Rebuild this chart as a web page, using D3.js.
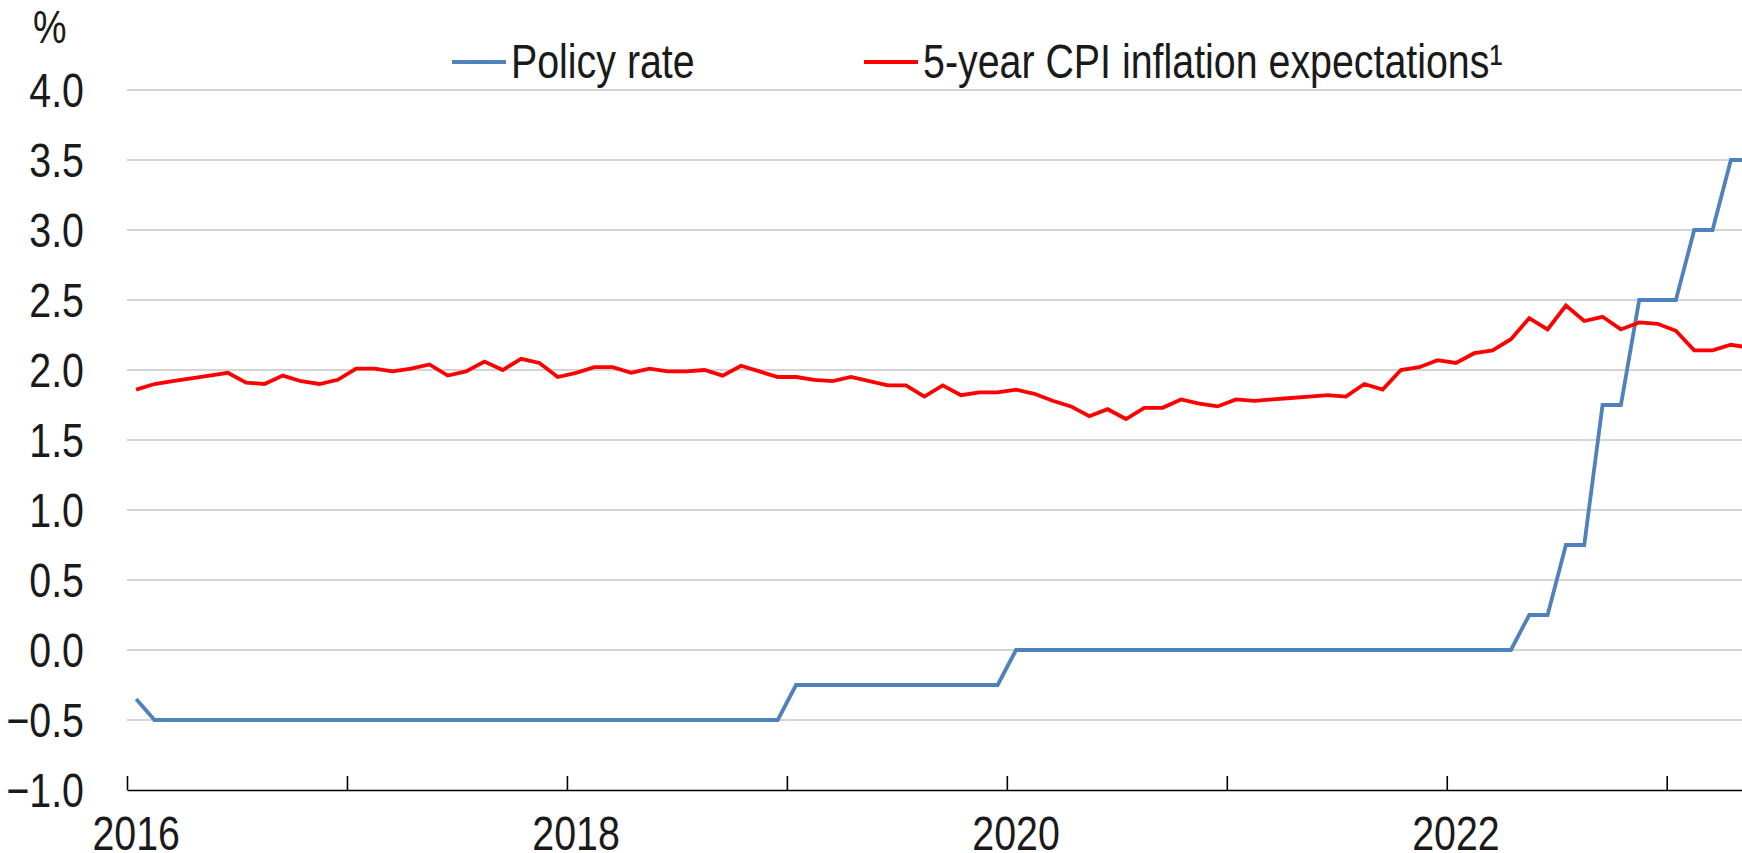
<!DOCTYPE html>
<html>
<head>
<meta charset="utf-8">
<script src="https://cdn.jsdelivr.net/npm/d3@7"></script>
<style>
    body { margin: 0; background: #fff; }
    svg text { font-family: "Liberation Sans Narrow", "Arial Narrow", "Liberation Sans", Arial, sans-serif; fill: #1a1a1a; }
</style>
</head>
<body>
<div id="graph"></div>
<script>
// Monthly data, Jan 2016 to May 2023
const startYear = 2016;

const policyRate = [
    -0.35, -0.5, -0.5, -0.5, -0.5, -0.5, -0.5, -0.5, -0.5, -0.5, -0.5, -0.5,
    -0.5, -0.5, -0.5, -0.5, -0.5, -0.5, -0.5, -0.5, -0.5, -0.5, -0.5, -0.5,
    -0.5, -0.5, -0.5, -0.5, -0.5, -0.5, -0.5, -0.5, -0.5, -0.5, -0.5, -0.5,
    -0.25, -0.25, -0.25, -0.25, -0.25, -0.25, -0.25, -0.25, -0.25, -0.25, -0.25, -0.25,
    0, 0, 0, 0, 0, 0, 0, 0, 0, 0, 0, 0,
    0, 0, 0, 0, 0, 0, 0, 0, 0, 0, 0, 0,
    0, 0, 0, 0, 0.25, 0.25, 0.75, 0.75, 1.75, 1.75, 2.5, 2.5,
    2.5, 3.0, 3.0, 3.5, 3.5
];

const inflationExpectations = [
    1.86, 1.90, 1.92, 1.94, 1.96, 1.98, 1.91, 1.90, 1.96, 1.92, 1.90, 1.93,
    2.01, 2.01, 1.99, 2.01, 2.04, 1.96, 1.99, 2.06, 2.00, 2.08, 2.05, 1.95,
    1.98, 2.02, 2.02, 1.98, 2.01, 1.99, 1.99, 2.00, 1.96, 2.03, 1.99, 1.95,
    1.95, 1.93, 1.92, 1.95, 1.92, 1.89, 1.89, 1.81, 1.89, 1.82, 1.84, 1.84,
    1.86, 1.83, 1.78, 1.74, 1.67, 1.72, 1.65, 1.73, 1.73, 1.79, 1.76, 1.74,
    1.79, 1.78, 1.79, 1.80, 1.81, 1.82, 1.81, 1.90, 1.86, 2.00, 2.02, 2.07,
    2.05, 2.12, 2.14, 2.22, 2.37, 2.29, 2.46, 2.35, 2.38, 2.29, 2.34, 2.33,
    2.28, 2.14, 2.14, 2.18, 2.16
];

const yTicks = [-1.0, -0.5, 0.0, 0.5, 1.0, 1.5, 2.0, 2.5, 3.0, 3.5, 4.0];
const yearLabels = [2016, 2018, 2020, 2022];
const seriesNames = ["Policy rate", "5-year CPI inflation expectations\u00b9"];
const seriesColors = ["#4f81bd", "#ff0000"];

const W = 1742, H = 853;
const margin = {top: 90, left: 127, bottom: 63};
const monthW = 18.33;
const nMonths = 90; // axis runs to mid 2023, cut by the page edge
const squeeze = 0.82; // no narrow font installed, so squeeze the sans

var svg = d3.select("#graph")
    .append("svg")
    .attr("width", W)
    .attr("height", H)
    .style("display", "block");

var x = d3.scaleLinear()
    .domain([0, nMonths])
    .range([margin.left, margin.left + nMonths * monthW]);

var y = d3.scaleLinear()
    .domain([-1, 4])
    .range([H - margin.bottom, margin.top]);

function place(px, py) {
    return "translate(" + px + "," + py + ") scale(" + squeeze + ",1)";
}

// gridlines
svg.append("g")
    .selectAll("line")
    .data(yTicks.filter(d => d > -1))
    .join("line")
    .attr("x1", x(0))
    .attr("x2", W)
    .attr("y1", d => y(d))
    .attr("y2", d => y(d))
    .attr("stroke", "#c6c6c6")
    .attr("stroke-width", 1.4);

// y labels
svg.append("g")
    .selectAll("text")
    .data(yTicks)
    .join("text")
    .attr("transform", d => place(84, y(d)))
    .attr("dy", "0.36em")
    .attr("text-anchor", "end")
    .attr("font-size", 48)
    .text(d => d3.format(".1f")(d));

svg.append("text")
    .attr("transform", place(33, 43))
    .attr("font-size", 46)
    .text("%");

// x axis: a tick at every year boundary
var yearStarts = d3.range(0, nMonths, 12);
var xAxis = svg.append("g")
    .attr("transform", "translate(0," + y(-1) + ")")
    .call(d3.axisBottom(x).tickValues(yearStarts).tickSize(-14).tickSizeOuter(0).tickFormat(""));
xAxis.select(".domain").attr("stroke", "#000").attr("stroke-width", 1.6);
xAxis.selectAll(".tick line").attr("stroke", "#000").attr("stroke-width", 1.6);

svg.append("g")
    .selectAll("text")
    .data(yearLabels)
    .join("text")
    .attr("transform", d => place(x((d - startYear) * 12 + 0.5), y(-1) + 60))
    .attr("text-anchor", "middle")
    .attr("font-size", 48)
    .text(d => d);

// lines
var line = d3.line()
    .x((d, i) => x(i + 0.5))
    .y(d => y(d));

[policyRate, inflationExpectations].forEach((series, k) => {
    svg.append("path")
        .datum(series)
        .attr("d", line)
        .attr("fill", "none")
        .attr("stroke", seriesColors[k])
        .attr("stroke-width", 3.8)
        .attr("stroke-linejoin", "miter");
});

// legend
var legendX = [452, 864];
var legend = svg.append("g");
seriesNames.forEach((name, k) => {
    legend.append("line")
        .attr("x1", legendX[k])
        .attr("x2", legendX[k] + 54)
        .attr("y1", 62)
        .attr("y2", 62)
        .attr("stroke", seriesColors[k])
        .attr("stroke-width", 3.8);
    legend.append("text")
        .attr("transform", place(legendX[k] + 59, 78))
        .attr("font-size", 48)
        .text(name);
});
</script>
</body>
</html>
